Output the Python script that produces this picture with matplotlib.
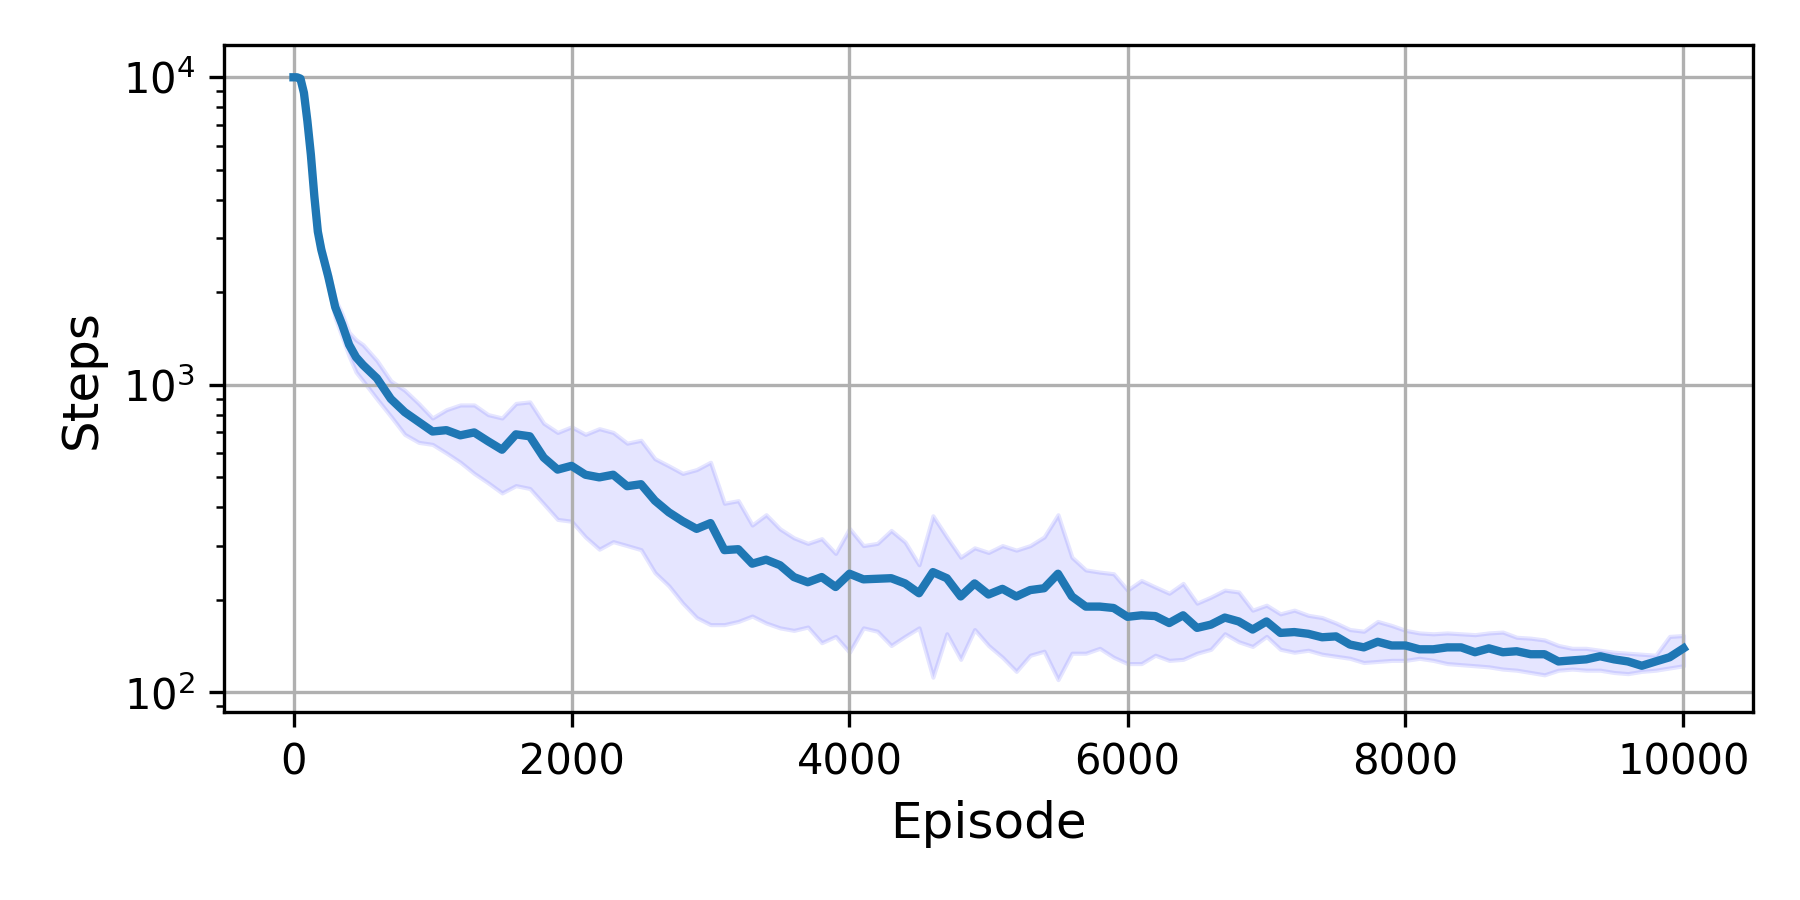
import matplotlib
matplotlib.use("Agg")
import matplotlib.pyplot as plt
import numpy as np

episodes = [0, 25, 50, 75, 100, 125, 150, 175, 200, 250, 300, 350, 400, 450, 500,
            600, 700, 800, 900, 1000, 1100, 1200, 1300, 1400, 1500, 1600, 1700, 1800, 1900,
            2000, 2100, 2200, 2300, 2400, 2500, 2600, 2700, 2800, 2900,
            3000, 3100, 3200, 3300, 3400, 3500, 3600, 3700, 3800, 3900,
            4000, 4100, 4200, 4300, 4400, 4500, 4600, 4700, 4800, 4900,
            5000, 5100, 5200, 5300, 5400, 5500, 5600, 5700, 5800, 5900,
            6000, 6100, 6200, 6300, 6400, 6500, 6600, 6700, 6800, 6900,
            7000, 7100, 7200, 7300, 7400, 7500, 7600, 7700, 7800, 7900,
            8000, 8100, 8200, 8300, 8400, 8500, 8600, 8700, 8800, 8900,
            9000, 9100, 9200, 9300, 9400, 9500, 9600, 9700, 9800, 9900, 10000]

mean_steps = [10000, 10000, 9900, 8900, 7200, 5600, 4100, 3150, 2750, 2250, 1790, 1570, 1350, 1230, 1160,
              1050, 900, 815, 758, 705, 712, 685, 700, 655, 615, 690, 680, 580, 530,
              545, 510, 500, 510, 468, 475, 420, 385, 360, 340,
              355, 290, 292, 262, 270, 259, 237, 228, 237, 220,
              243, 233, 234, 235, 226, 210, 246, 235, 205, 226,
              208, 217, 205, 215, 218, 243, 205, 190, 190, 188,
              176, 178, 177, 168, 178, 162, 166, 175, 170, 160,
              170, 156, 157, 155, 151, 152, 143, 140, 146, 142,
              142, 138, 138, 140, 140, 135, 139, 135, 136, 133,
              133, 126, 127, 128, 131, 128, 126, 122, 126, 130, 139]

upper_steps = [10000, 10050, 10000, 9100, 7500, 5850, 4300, 3300, 2900, 2380, 1900, 1700, 1480, 1400, 1350,
               1200, 1030, 960, 870, 780, 830, 860, 860, 800, 780, 870, 880, 750, 700,
               730, 690, 720, 700, 646, 660, 575, 545, 515, 530,
               560, 412, 420, 350, 378, 340, 318, 305, 316, 283,
               341, 300, 305, 336, 308, 260, 375, 320, 275, 295,
               285, 300, 290, 300, 320, 378, 275, 250, 246, 243,
               215, 231, 220, 210, 226, 195, 204, 215, 212, 185,
               192, 180, 185, 178, 175, 168, 160, 158, 170, 165,
               159, 156, 155, 156, 155, 154, 156, 157, 151, 150,
               148, 142, 139, 139, 137, 135, 134, 133, 132, 152, 153]

lower_steps = [10000, 9950, 9800, 8700, 6900, 5350, 3900, 3000, 2600, 2100, 1650, 1430, 1240, 1100, 1030,
               900, 790, 690, 650, 640, 600, 560, 515, 480, 445, 470, 460, 410, 365,
               360, 320, 292, 309, 300, 291, 245, 222, 195, 175,
               166, 166, 170, 177, 168, 162, 159, 163, 145, 152,
               135, 162, 158, 142, 152, 162, 112, 155, 128, 160,
               142, 130, 117, 132, 136, 110, 134, 134, 139, 130,
               124, 124, 132, 127, 128, 134, 138, 155, 146, 141,
               152, 138, 135, 137, 133, 131, 129, 125, 126, 127,
               127, 129, 127, 124, 123, 122, 121, 119, 118, 116,
               114, 118, 119, 118, 118, 116, 115, 117, 118, 120, 122]

fig = plt.figure(figsize=(6, 3), dpi=300)
ax = fig.add_axes([224 / 1800, 1 - 712.3 / 900, (1753 - 224) / 1800, (712.3 - 45) / 900])

ax.fill_between(episodes, lower_steps, upper_steps, color='blue', alpha=0.1)
ax.plot(episodes, mean_steps, color='#1f77b4', linewidth=2)

ax.set_yscale('log')
ax.set_xlim(-500, 10500)
ax.set_ylim(10 ** 1.935, 10 ** 4.105)
ax.grid(True)
ax.set_xlabel('Episode', fontsize=12)
ax.set_ylabel('Steps', fontsize=12)

fig.savefig('out.png', dpi=300)
